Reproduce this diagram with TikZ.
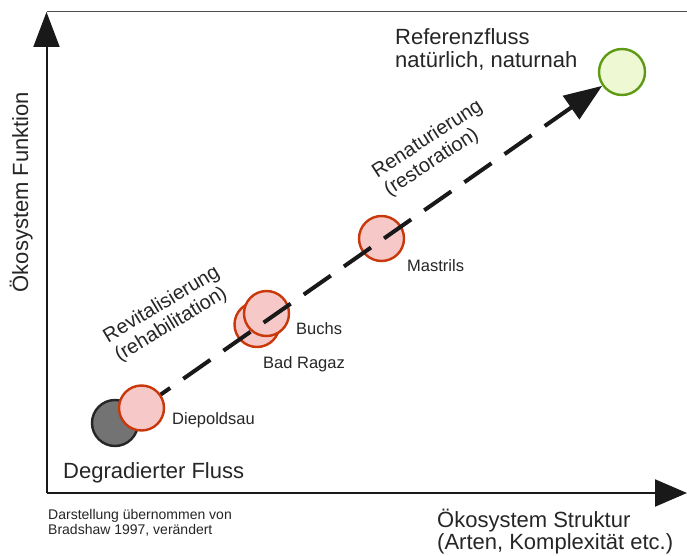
\documentclass[tikz,border=0pt]{standalone}
\usepackage{fontspec}
\setmainfont{Liberation Sans}
\usetikzlibrary{arrows.meta}
\definecolor{pinkfill}{HTML}{F6C8C8}
\definecolor{redline}{HTML}{C8380A}
\definecolor{greenfill}{HTML}{EEF8D2}
\definecolor{greenline}{HTML}{5E9A14}
\definecolor{grayfill}{HTML}{737373}
\definecolor{txt}{HTML}{262626}
\newcommand\FBig{\fontsize{22}{26}\selectfont}
\newcommand\FSmall{\fontsize{14}{16}\selectfont}
\newcommand\FLab{\fontsize{16.5}{19}\selectfont}
\newcommand\FRot{\fontsize{20}{22}\selectfont}
\begin{document}
\begin{tikzpicture}[x=1pt,y=-1pt,
  site/.style={circle,draw=redline,fill=pinkfill,line width=2.4pt,minimum size=45pt,inner sep=0pt},
  lbl/.style={anchor=base west,inner sep=0pt,text=txt},
  rotlbl/.style={anchor=north west,inner sep=0pt,text=txt,align=left,font=\FRot},
  axis/.style={line width=2pt,draw=black!90},
]
\useasboundingbox (0,0) rectangle (687,556);
\fill[white] (0,0) rectangle (687,556);

% axes
\coordinate (origin) at (46.5,493);
\coordinate (ytip) at (46.5,12);
\coordinate (xtip) at (687,493);
\coordinate (topend) at (687,12);
\draw[black!70, line width=1pt] (ytip) -- (topend);
\draw[axis, -{Triangle[length=35pt,width=26pt]}] (origin) -- (ytip);
\draw[axis, -{Triangle[length=32pt,width=27pt]}] (origin) -- (xtip);

% circles
\node[circle,draw=black!85,fill=grayfill,line width=2.4pt,minimum size=46pt,inner sep=0pt] (deg) at (115,423) {};
\node[site] (bad) at (257,324.5) {};
\node[site] (buchs) at (266.5,313.5) {};
\node[site] (mas) at (381.5,238.5) {};
\node[circle,draw=greenline,fill=greenfill,line width=2.4pt,minimum size=46pt,inner sep=0pt] (ref) at (622,72) {};

% dashed arrow
\coordinate (dpc) at (141.5,408);
\draw[line width=4pt, black!90, dash pattern=on 33pt off 16pt, dash phase=47pt,
  -{Triangle[length=38pt,width=28pt]}] (dpc) -- (ref);
\node[site] (diep) at (dpc) {};

% texts
\node[lbl,font=\FBig] (t1) at (395,45) {Referenzfluss};
\node[lbl,font=\FBig] (t2) at (395,68) {natürlich, naturnah};
\node[lbl,font=\FBig] (deglbl) at (63,478) {Degradierter Fluss};
\node[lbl,font=\FBig] (xl1) at (437,527) {Ökosystem Struktur};
\node[lbl,font=\FBig] (xl2) at (437,549) {(Arten, Komplexität etc.)};
\node[anchor=base,inner sep=0pt,rotate=90,font=\FBig,text=txt] (yl) at (28,192) {Ökosystem Funktion};
\node[lbl,font=\FSmall] (s1) at (48,519) {Darstellung übernommen von};
\node[lbl,font=\FSmall] (s2) at (48,534) {Bradshaw 1997, verändert};
\node[lbl,font=\FLab] (dl) at (172,424) {Diepoldsau};
\node[lbl,font=\FLab] (bl) at (296,334) {Buchs};
\node[lbl,font=\FLab] (rl) at (263,368) {Bad Ragaz};
\node[lbl,font=\FLab] (ml) at (407,271) {Mastrils};
\node[rotlbl,rotate=33] (ren) at (369.1,165.8) {Renaturierung\\(restoration)};
\node[rotlbl,rotate=31] (rev) at (100.5,330.6) {Revitalisierung\\(rehabilitation)};
\end{tikzpicture}
\end{document}
